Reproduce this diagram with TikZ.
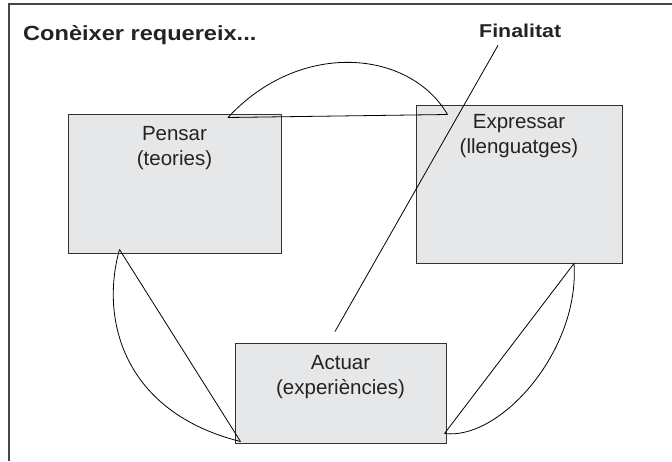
\documentclass[tikz,border=0pt]{standalone}
\usepackage{fontspec}
\setmainfont{Liberation Sans}
\newfontfamily\headfont[FakeStretch=1.15]{Liberation Sans}
\usepackage{tikz}
\usetikzlibrary{positioning,calc}
\definecolor{cqframe}{RGB}{70,70,70}
\definecolor{cqedge}{RGB}{50,50,50}
\definecolor{cqfill}{RGB}{230,231,233}
\definecolor{cqtext}{RGB}{35,35,35}
\tikzset{
  area/.style={draw=cqedge, line width=1pt, fill=cqfill, inner sep=0pt},
  areatext/.style={font=\fontsize{20.5}{25}\selectfont, text=cqtext, align=center, inner sep=0pt},
  headtext/.style={font=\headfont\bfseries\fontsize{20.5}{24}\selectfont, text=cqtext,
    inner sep=0pt, anchor=base west},
  link/.style={draw=black, line width=0.8pt},
  frame/.style={draw=cqframe, line width=1.6pt}
}

\begin{document}
\begin{tikzpicture}[x=1pt, y=-1pt, node distance=12pt]
  \useasboundingbox (0,0) rectangle (672,461);
  \draw[frame] (672,4) -| (9,461);
  % titles
  \node[headtext] (title) at (23,40) {Conèixer requereix...};
  \node[headtext, font=\headfont\bfseries\fontsize{18.6}{22}\selectfont] (finalitat) at (479,37) {Finalitat};
  % the three areas
  \node[area, minimum width=213pt, minimum height=139pt] (pensar) at (174.5,183.5) {};
  \node[area, minimum width=206pt, minimum height=158pt] (expressar) at (519,184) {};
  \node[area, minimum width=211pt, minimum height=100pt] (actuar) at (340.5,393) {};
  \node[areatext, below=13pt of pensar.north] (pensarlbl) {Pensar\\(teories)};
  \node[areatext, below=10pt of expressar.north] (expressarlbl) {Expressar\\(llenguatges)};
  \node[areatext, below=13pt of actuar.north] (actuarlbl) {Actuar\\(experiències)};
  % end points of the links
  \coordinate (pe) at ($(pensar.north)+(53.5,4)$);
  \coordinate (ep) at ($(expressar.north west)+(32,10)$);
  \coordinate (pa) at ($(pensar.south west)+(52,-4)$);
  \coordinate (ap) at ($(actuar.south west)+(6,-2)$);
  \coordinate (ea) at ($(expressar.south)+(55,0)$);
  \coordinate (ae) at ($(actuar.south east)+(-2,-10)$);
  \coordinate (fintop) at ($(finalitat.south west)+(19,8)$);
  \coordinate (finend) at ($(actuar.north)+(-5.5,-11)$);
  \draw[link] (pe) -- (ep);
  \draw[link] (pe) .. controls +(72,-78) and +(-38,-65) .. (ep);
  \draw[link] (pa) -- (ap);
  \draw[link] (pa) .. controls +(-20,71) and +(-116,-29) .. (ap);
  \draw[link] (ea) -- (ae);
  \draw[link] (ea) .. controls +(6,87) and +(56,7) .. (ae);
  \draw[link] (fintop) -- (finend);
\end{tikzpicture}
\end{document}
